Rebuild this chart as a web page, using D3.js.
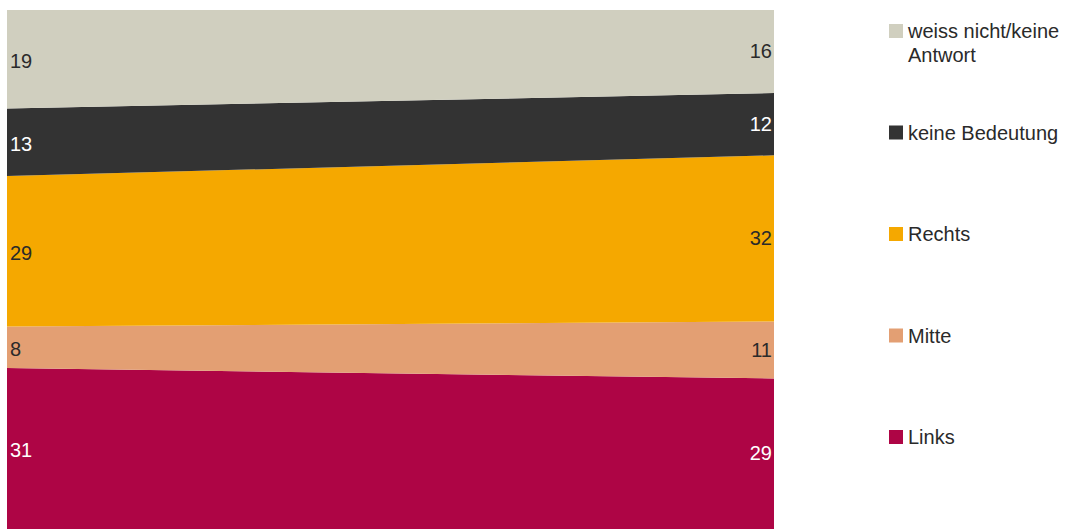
<!DOCTYPE html>
<html>
<head>
<meta charset="utf-8">
<script src="https://cdn.jsdelivr.net/npm/d3@7"></script>
<style>
html,body{margin:0;padding:0;background:#fff;}
svg text{font-family:"Liberation Sans",Arial,Helvetica,sans-serif;font-weight:400;}
</style>
</head>
<body>
<svg id="chart" width="1074" height="529"></svg>
<script>
const periods = ["A", "B"];
const seriesNames = ["Links", "Mitte", "Rechts", "keine Bedeutung", "weiss nicht/keine Antwort"];
const links = [31, 29];
const mitte = [8, 11];
const rechts = [29, 32];
const keine = [13, 12];
const weissNicht = [19, 16];
const legendLabels = [["weiss nicht/keine", "Antwort"], ["keine Bedeutung"], ["Rechts"], ["Mitte"], ["Links"]];
const colors = ["#ae0545", "#e39f73", "#f5a800", "#333333", "#d0cfbf"];
const labelColors = ["#ffffff", "#2a2a2a", "#2a2a2a", "#ffffff", "#2a2a2a"];

const seriesValues = [links, mitte, rechts, keine, weissNicht];
const table = periods.map((p, i) => {
  const row = {period: p};
  seriesNames.forEach((s, k) => row[s] = seriesValues[k][i]);
  return row;
});

const svg = d3.select("#chart");
const x = d3.scalePoint().domain(periods).range([7, 774]);
const y = d3.scaleLinear().domain([0, 100]).range([529, 10]);

const stack = d3.stack().keys(seriesNames);
const layers = stack(table);

const area = d3.area()
  .x(d => x(d.data.period))
  .y0(d => y(d[0]))
  .y1(d => y(d[1]));

svg.append("g").selectAll("path")
  .data(layers)
  .join("path")
  .attr("d", area)
  .attr("fill", (d, i) => colors[i]);

// value labels
const lg = svg.append("g").attr("font-size", 20);
layers.forEach((layer, k) => {
  layer.forEach((d, i) => {
    const left = i === 0;
    lg.append("text")
      .attr("x", left ? x(d.data.period) + 3 : x(d.data.period) - 2)
      .attr("y", y((d[0] + d[1]) / 2) + (left ? 1.5 : -0.5))
      .attr("dy", "0.36em")
      .attr("text-anchor", left ? "start" : "end")
      .attr("fill", labelColors[k])
      .text(d.data[seriesNames[k]]);
  });
});

// legend
const legendY = d3.scalePoint().domain(d3.range(legendLabels.length)).range([31, 437]);
const leg = svg.append("g").attr("font-size", 20);
legendLabels.forEach((lines, j) => {
  const cy = legendY(j);
  const colorIdx = seriesNames.length - 1 - j;
  leg.append("rect")
    .attr("x", 889).attr("y", cy - 7)
    .attr("width", 14).attr("height", 14)
    .attr("fill", colors[colorIdx]);
  lines.forEach((t, li) => {
    leg.append("text")
      .attr("x", 908)
      .attr("y", cy + li * 24)
      .attr("dy", "0.36em")
      .attr("fill", "#2a2a2a")
      .text(t);
  });
});
</script>
</body>
</html>
